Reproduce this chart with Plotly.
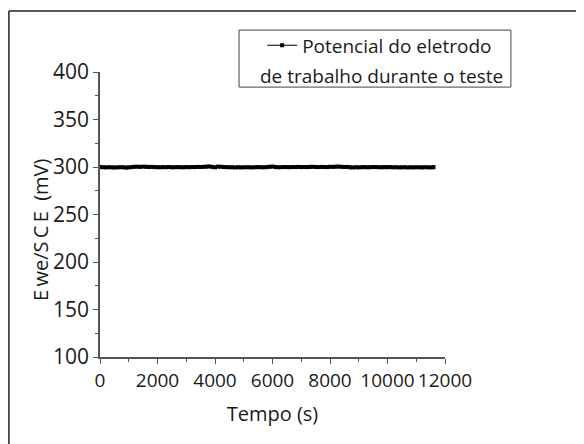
import plotly.graph_objects as go

tempo_s = [
    0, 100, 200, 300, 400, 500, 600, 700, 800, 900, 1000,
    1100, 1200, 1300, 1400, 1500, 1600, 1700, 1800, 1900, 2000,
    2100, 2200, 2300, 2400, 2500, 2600, 2700, 2800, 2900, 3000,
    3100, 3200, 3300, 3400, 3500, 3600, 3700, 3800, 3900, 4000,
    4100, 4200, 4300, 4400, 4500, 4600, 4700, 4800, 4900, 5000,
    5100, 5200, 5300, 5400, 5500, 5600, 5700, 5800, 5900, 6000,
    6100, 6200, 6300, 6400, 6500, 6600, 6700, 6800, 6900, 7000,
    7100, 7200, 7300, 7400, 7500, 7600, 7700, 7800, 7900, 8000,
    8100, 8200, 8300, 8400, 8500, 8600, 8700, 8800, 8900, 9000,
    9100, 9200, 9300, 9400, 9500, 9600, 9700, 9800, 9900, 10000,
    10100, 10200, 10300, 10400, 10500, 10600, 10700, 10800, 10900, 11000,
    11100, 11200, 11300, 11400, 11500, 11600,
]

ewe_mv = [
    300.0, 299.8, 299.6, 299.8, 299.7, 299.5, 299.6, 299.8, 299.7, 299.4, 299.6,
    299.9, 300.2, 300.3, 300.1, 300.4, 300.2, 300.0, 300.1, 299.9, 299.8,
    299.7, 299.9, 299.8, 300.0, 299.7, 299.8, 299.9, 299.8, 299.7, 299.9,
    299.8, 300.0, 299.9, 300.1, 300.0, 300.2, 300.3, 300.6, 300.1, 299.7,
    300.4, 300.3, 300.0, 299.9, 299.7, 299.8, 299.5, 299.8, 299.6, 299.7,
    299.8, 299.7, 299.6, 299.8, 299.9, 299.8, 299.7, 299.9, 300.2, 300.5,
    300.0, 299.7, 299.8, 300.0, 299.9, 299.8, 300.0, 299.9, 300.1, 299.9,
    300.0, 299.9, 300.1, 300.2, 300.0, 299.9, 300.1, 300.0, 299.9, 300.2,
    300.1, 300.3, 300.5, 300.2, 300.0, 300.1, 299.7, 299.5, 299.8, 299.6,
    299.8, 299.9, 299.7, 299.8, 300.0, 299.9, 299.8, 299.7, 299.9, 299.8,
    299.9, 299.7, 299.8, 299.6, 299.7, 299.8, 299.5, 299.7, 299.6, 299.8,
    299.7, 299.6, 299.8, 299.7, 299.6, 299.8,
]

legend_line1 = "Potencial do eletrodo"
legend_line2 = "de trabalho durante o teste"
x_title = "Tempo (s)"
y_title = "E\u2009we/S\u2009C\u2009E  (mV)"
x_ticks = [0, 2000, 4000, 6000, 8000, 10000, 12000]
x_ticktext = ["0", "2000", "4000", "6000", "8000", "10000", "12000"]
y_ticks = [100, 150, 200, 250, 300, 350, 400]

FONT = "Open Sans"
TXT = "#1a1a1a"
AX = "#555555"
FRAME = "#222222"

fig = go.Figure()
fig.add_trace(go.Scatter(
    x=tempo_s, y=ewe_mv, mode="lines+markers", name=legend_line1,
    line=dict(color="black", width=1.2),
    marker=dict(symbol="square", size=4, color="black"),
))

fig.update_layout(
    width=576, height=436,
    margin=dict(l=92, r=139, t=64, b=87),
    paper_bgcolor="white", plot_bgcolor="white",
    font=dict(family=FONT, size=21, color=TXT),
    showlegend=True,
    legend=dict(
        x=0.47, y=1.16, xanchor="left", yanchor="top",
        bgcolor="rgba(0,0,0,0)", borderwidth=0,
        font=dict(family=FONT, size=19, color=TXT),
        itemwidth=30,
    ),
    xaxis=dict(
        range=[0, 12000], tickvals=x_ticks, ticktext=x_ticktext, tickangle=0,
        showgrid=False, zeroline=False,
        showline=True, linecolor=AX, linewidth=1.5,
        ticks="outside", ticklen=5, tickwidth=1.2, tickcolor=AX,
        minor=dict(dtick=1000, ticks="outside", ticklen=3, tickwidth=1, tickcolor=AX),
        tickfont=dict(size=19, color=TXT),
        title=dict(text=x_title, font=dict(size=20, color=TXT), standoff=15),
    ),
    yaxis=dict(
        range=[100, 400], tickvals=y_ticks,
        showgrid=False, zeroline=False,
        showline=True, linecolor=AX, linewidth=1.5,
        ticks="outside", ticklen=5, tickwidth=1.2, tickcolor=AX,
        minor=dict(dtick=25, ticks="outside", ticklen=3, tickwidth=1, tickcolor=AX),
        tickfont=dict(size=21, color=TXT),
    ),
    shapes=[
        dict(type="line", xref="paper", yref="paper",
             x0=-0.264, x1=-0.264, y0=-0.4, y1=1.214,
             line=dict(color=FRAME, width=1.5), layer="below"),
        dict(type="line", xref="paper", yref="paper",
             x0=-0.264, x1=1.397, y0=1.214, y1=1.214,
             line=dict(color=FRAME, width=1.5), layer="below"),
        dict(type="line", xref="paper", yref="paper",
             x0=1.397, x1=1.397, y0=-0.4, y1=1.214,
             line=dict(color=FRAME, width=1.5), layer="below"),
        dict(type="rect", xref="paper", yref="paper",
             x0=0.403, x1=1.191, y0=0.947, y1=1.147,
             line=dict(color="#444444", width=1), fillcolor="rgba(0,0,0,0)"),
    ],
    annotations=[
        dict(text=legend_line2, xref="paper", yref="paper", x=0.817, y=0.986,
             xanchor="center", yanchor="middle", showarrow=False,
             font=dict(family=FONT, size=19, color=TXT)),
        dict(text=y_title, xref="paper", yref="paper", x=-0.174, y=0.449,
             xanchor="center", yanchor="middle", textangle=-90, showarrow=False,
             font=dict(family=FONT, size=20, color=TXT)),
    ],
)

fig.write_html(
    "out.html",
    post_script="document.documentElement.style.overflow='hidden';document.body.style.overflow='hidden';",
)
